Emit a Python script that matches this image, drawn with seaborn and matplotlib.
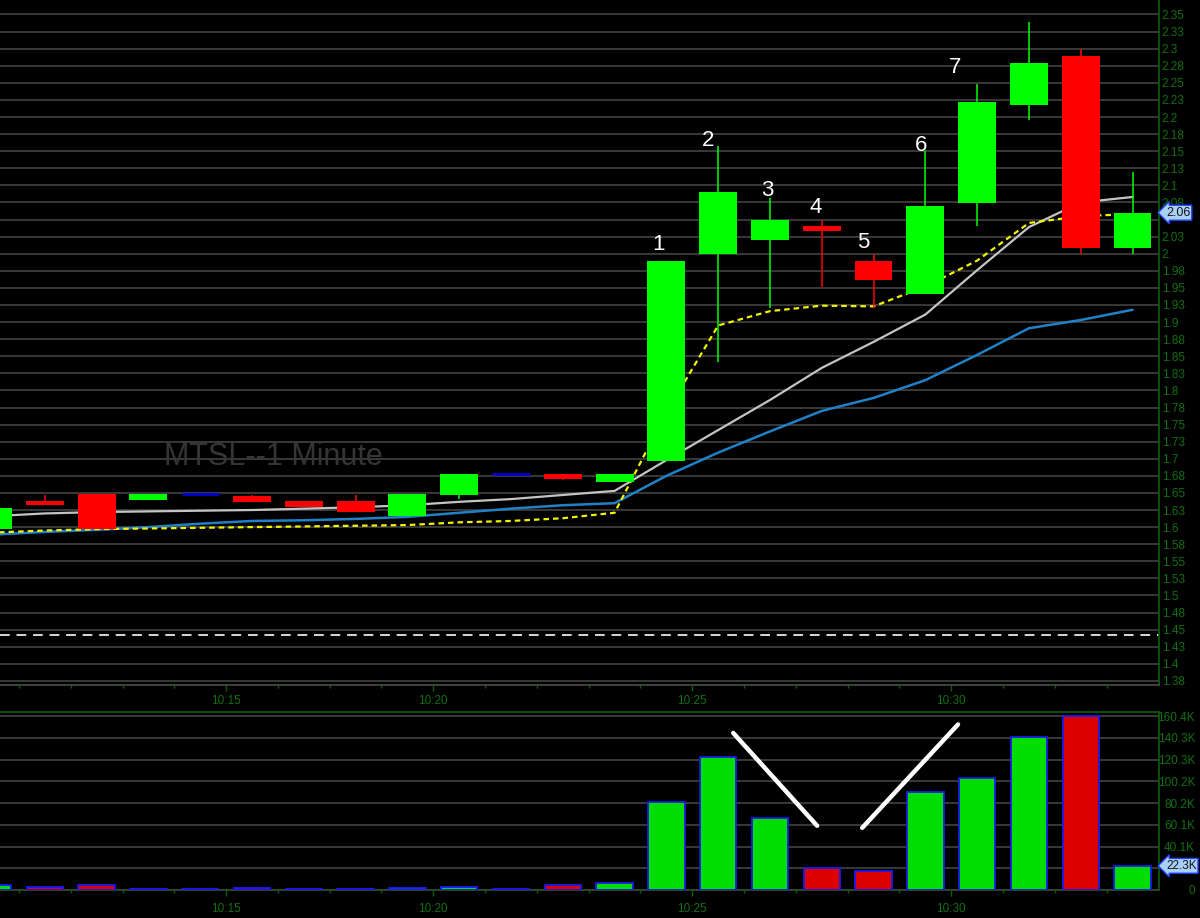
"""MTSL 1-minute candles with moving averages and a volume pane (dark trading-terminal look)."""

import matplotlib

matplotlib.use("Agg")
import matplotlib.pyplot as plt   # noqa: E402
import numpy as np                 # noqa: E402
import pandas as pd                # noqa: E402
import seaborn as sns              # noqa: E402

# ---------------------------------------------------------------------------
# Data. Bar index 0..22, one bar per traded minute.
# ---------------------------------------------------------------------------
OPEN = [1.597, 1.638, 1.649, 1.640, 1.649, 1.646, 1.638, 1.638, 1.616, 1.647, 1.678, 1.678,
        1.666, 1.697, 1.999, 2.020, 2.041, 1.989, 1.941, 2.074, 2.218, 2.289, 2.008]
HIGH = [1.628, 1.647, 1.649, 1.649, 1.649, 1.647, 1.638, 1.647, 1.649, 1.678, 1.678, 1.678,
        1.678, 1.989, 2.158, 2.082, 2.050, 1.999, 2.151, 2.248, 2.339, 2.299, 2.119]
LOW = [1.597, 1.632, 1.597, 1.640, 1.649, 1.637, 1.630, 1.622, 1.616, 1.641, 1.678, 1.669,
       1.666, 1.697, 1.842, 1.921, 1.952, 1.921, 1.941, 2.041, 2.196, 1.999, 1.999]
CLOSE = [1.628, 1.632, 1.597, 1.649, 1.649, 1.637, 1.630, 1.622, 1.649, 1.678, 1.678, 1.671,
         1.678, 1.989, 2.090, 2.050, 2.033, 1.962, 2.070, 2.222, 2.279, 2.008, 2.060]
VOLUME_K = [4.9, 3.1, 4.3, 0.6, 1.2, 1.5, 0.6, 1.2, 2.2, 3.1, 0.6, 4.9,
            6.3, 80.9, 122.7, 66.0, 20.2, 17.7, 90.0, 103.0, 141.0, 160.0, 22.3]

MA_GRAY = [1.616, 1.620, 1.622, 1.623, 1.624, 1.625, 1.627, 1.629, 1.632, 1.637, 1.641, 1.647,
           1.653, 1.698, 1.742, 1.786, 1.833, 1.871, 1.911, 1.976, 2.039, 2.075, 2.083]
MA_BLUE = [1.589, 1.593, 1.596, 1.600, 1.605, 1.609, 1.610, 1.612, 1.615, 1.621, 1.627, 1.632,
           1.635, 1.675, 1.709, 1.740, 1.770, 1.789, 1.815, 1.852, 1.891, 1.903, 1.918]
MA_YELLOW = [1.592, 1.595, 1.597, 1.598, 1.599, 1.600, 1.601, 1.602, 1.603, 1.607, 1.609, 1.613,
             1.621, 1.768, 1.895, 1.916, 1.924, 1.923, 1.952, 1.990, 2.045, 2.055, 2.058]
STOP_LEVEL = 1.442

# the 2.05 and 20.1K labels sit under the last-value flags, so they stay blank
PRICE_TICK_LABELS = ["1.38", "1.4", "1.43", "1.45", "1.48", "1.5", "1.53", "1.55", "1.58", "1.6",
                     "1.63", "1.65", "1.68", "1.7", "1.73", "1.75", "1.78", "1.8", "1.83", "1.85",
                     "1.88", "1.9", "1.93", "1.95", "1.98", "2.", "2.03", "", "2.08", "2.1",
                     "2.13", "2.15", "2.18", "2.2", "2.23", "2.25", "2.28", "2.3", "2.33", "2.35"]
VOL_TICK_LABELS = ["0", "", "40.1K", "60.1K", "80.2K", "100.2K", "120.3K", "140.3K", "160.4K"]
TIME_TICK_POS = [4.5, 8.5, 13.5, 18.5]
TIME_TICK_LABELS = ["10:15", "10:20", "10:25", "10:30"]

CANDLE_NUMBERS = ["1", "2", "3", "4", "5", "6", "7"]
NUMBER_X = [12.84, 13.80, 14.94, 15.89, 16.80, 17.92, 18.57]
NUMBER_Y = [2.013, 2.166, 2.093, 2.068, 2.017, 2.159, 2.273]

LAST_PRICE = 2.06
LAST_VOLUME_K = 22.3
# hand-drawn "V" on the volume pane: (x0, vol0, x1, vol1)
V_STROKES = [(14.29, 144.8, 15.91, 59.2), (16.78, 57.3, 18.63, 152.6)]

# ---------------------------------------------------------------------------
UP, DOWN, DOJI = "#00ff00", "#ff0000", "#0000d0"
VOL_PALETTE = {"up": "#00dd00", "down": "#dd0000", "doji": "#1a1aff"}
GREEN_AXIS = "#0b5e0b"
GREEN_TXT = "#117011"
GRID = "#3d3d3d"
FLAG = dict(boxstyle="larrow,pad=0.12", fc="#a9cff5", ec="#2040ff", lw=1)

sns.set_theme(style="dark", rc={"axes.facecolor": "black", "figure.facecolor": "black",
                                "savefig.facecolor": "black"})
plt.rcParams["font.family"] = ["Liberation Sans", "DejaVu Sans"]

idx = np.arange(len(OPEN))
o, h, l, c = (np.array(a) for a in (OPEN, HIGH, LOW, CLOSE))
direction = np.where(c > o, "up", np.where(c < o, "down", "doji"))
df = pd.DataFrame({"bar": idx, "vol": VOLUME_K, "dir": direction})

W, H = 1200, 918
fig = plt.figure(figsize=(W / 100, H / 100), dpi=100)
ax_p = fig.add_axes([0, 1 - 685 / H, 1159 / W, 685 / H])
ax_v = fig.add_axes([0, 1 - 890 / H, 1159 / W, 178 / H])
XLIM = (0.135, 22.51)
for ax in (ax_p, ax_v):
    ax.set_axisbelow(True)

# --- price pane --------------------------------------------------------------
ax_p.text(5.42, 1.703, "MTSL--1 Minute", color="#353535", fontsize=22,
          ha="center", va="center", zorder=1.2)
ax_p.axhline(STOP_LEVEL, color="#d8d8d8", lw=1.4, ls=(0, (5, 3.5)), zorder=1.5)

sns.lineplot(x=idx, y=MA_BLUE, ax=ax_p, color="#1f82c8", lw=1.8, zorder=2)
sns.lineplot(x=idx, y=MA_GRAY, ax=ax_p, color="#c4c4c4", lw=1.6, zorder=2)
sns.lineplot(x=idx, y=MA_YELLOW, ax=ax_p, color="#f2f200", lw=1.6,
             linestyle=(0, (2.5, 1.8)), zorder=2)

body_col = np.array([UP if d == "up" else DOWN for d in direction])
real = direction != "doji"
ax_p.vlines(idx[real], l[real], h[real], colors=body_col[real], lw=1.1, zorder=3)
ax_p.bar(idx[real], np.abs(c - o)[real], bottom=np.minimum(o, c)[real], width=0.73,
         color=body_col[real], linewidth=0, zorder=4)
ax_p.hlines(c[~real], idx[~real] - 0.36, idx[~real] + 0.36, colors=DOJI, lw=2, zorder=4)

for txt, x, y in zip(CANDLE_NUMBERS, NUMBER_X, NUMBER_Y):
    ax_p.text(x, y, txt, color="white", fontsize=16, ha="center", va="center", zorder=6)

price_ticks = 1.375 + 0.025 * np.arange(len(PRICE_TICK_LABELS))
ax_p.set_ylim(1.369, 2.3712)
ax_p.set_xlim(*XLIM)
ax_p.yaxis.tick_right()
ax_p.set_yticks(price_ticks, PRICE_TICK_LABELS)
ax_p.tick_params(axis="y", length=0, pad=2, labelsize=8.5, labelcolor=GREEN_TXT)
ax_p.grid(axis="y", color=GRID, lw=1.3)
ax_p.grid(axis="x", visible=False)

ax_p.text(1.006, LAST_PRICE, "2.06", transform=ax_p.get_yaxis_transform(), ha="left",
          va="center", fontsize=9, color="#151515", zorder=10, clip_on=False, bbox=FLAG)

# --- volume pane -------------------------------------------------------------
sns.barplot(data=df, x="bar", y="vol", hue="dir", palette=VOL_PALETTE, dodge=False,
            native_scale=True, width=0.7, saturation=1, edgecolor="#1a1aee", linewidth=1.3,
            errorbar=None, legend=False, ax=ax_v, zorder=3)
for x0, y0, x1, y1 in V_STROKES:
    ax_v.plot([x0, x1], [y0, y1], color="white", lw=3.2, solid_capstyle="round", zorder=5)

vol_ticks = 20.05 * np.arange(len(VOL_TICK_LABELS))
ax_v.set_ylim(0, 164.1)
ax_v.set_xlim(*XLIM)
ax_v.yaxis.tick_right()
ax_v.set_yticks(vol_ticks, VOL_TICK_LABELS)
ax_v.tick_params(axis="y", length=0, pad=26, labelsize=8.5, labelcolor=GREEN_TXT)
for lab in ax_v.get_yticklabels():
    lab.set_horizontalalignment("right")
ax_v.grid(axis="y", color=GRID, lw=1.3)
ax_v.grid(axis="x", visible=False)
ax_v.set_xlabel(""); ax_v.set_ylabel("")

ax_v.text(1.006, LAST_VOLUME_K, "22.3K", transform=ax_v.get_yaxis_transform(), ha="left",
          va="center", fontsize=8.5, color="#151515", zorder=10, clip_on=False, bbox=FLAG)

# --- shared time axis styling ------------------------------------------------
for ax, pad in ((ax_p, 3), (ax_v, 5)):
    ax.set_xticks(TIME_TICK_POS, TIME_TICK_LABELS)
    ax.set_xticks(np.arange(0.5, 22.5, 1.0), minor=True)
    ax.tick_params(axis="x", which="major", length=4, width=1, color=GREEN_AXIS, pad=pad,
                   labelsize=8.5, labelcolor=GREEN_TXT, bottom=True)
    ax.tick_params(axis="x", which="minor", length=2.5, width=1, color=GREEN_AXIS, bottom=True)
    for side in ("left", "top"):
        ax.spines[side].set_visible(False)
    ax.spines["right"].set_color(GREEN_AXIS)
    ax.spines["right"].set_linewidth(1.2)

ax_p.spines["bottom"].set_color("#4a4a4a")
ax_v.spines["bottom"].set_color("#2f4a2f")
ax_v.spines["top"].set_visible(True)
ax_v.spines["top"].set_color(GREEN_AXIS)
ax_v.spines["top"].set_linewidth(1.2)

fig.savefig("out.png", dpi=100, facecolor="black")
